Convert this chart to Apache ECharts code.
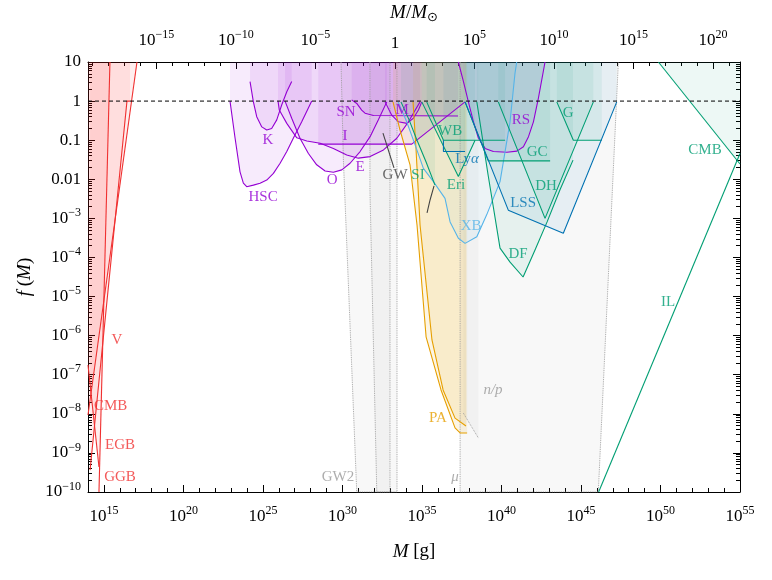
<!DOCTYPE html>
<html><head><meta charset="utf-8">
<script src="https://cdn.jsdelivr.net/npm/echarts@6/dist/echarts.min.js"></script>
<style>html,body{margin:0;background:#fff}#c{width:772px;height:580px}</style>
</head><body><div id="c"></div><script>
// All values: [log10(M / g), log10 f(M)]
const LOG_MSUN = 33.2986;
// evaporation (red)
const evapGGB = [[14.69,-10],[15.38,1]];
const evapCMB = [[14.0,-6.75],[14.69,-9.36]];
const evapEGB = [[14.0,-8.03],[17.08,1]];
const evapV = [[14.13,-9.44],[16.45,0],[16.64,0]];
// lensing (purple)
const lensHSC = [[22.93,0],[23.25,-0.95],[23.56,-1.81],[23.77,-2.10],[23.98,-2.19],[24.40,-2.15],[24.82,-2.10],[25.24,-2.02],[25.66,-1.85],[26.08,-1.59],[26.50,-1.29],[26.91,-0.95],[27.44,-0.53],[28.07,0]];
const lensK = [[24.19,0.50],[24.40,-0.02],[24.61,-0.40],[24.93,-0.66],[25.24,-0.74],[25.55,-0.70],[25.87,-0.48],[26.18,-0.10],[26.50,0.24],[26.81,0.50]];
const lensE = [[25.95,0],[26.03,-0.23],[26.50,-0.57],[27.13,-0.94],[27.76,-1.02],[28.60,-1.08],[29.43,-1.21],[30.27,-1.38],[31.00,-1.46],[31.74,-1.42],[32.58,-1.25],[33.42,-0.95],[34.15,-0.53],[34.88,-0.02]];
const lensO = [[26.39,0],[26.81,-0.44],[27.33,-0.95],[27.86,-1.34],[28.38,-1.63],[28.91,-1.79],[29.43,-1.82],[29.96,-1.76],[30.48,-1.59],[31.11,-1.29],[31.74,-0.91],[32.26,-0.48],[32.79,-0.02]];
const lensSN = [[30.58,0.03],[30.90,-0.06],[31.21,-0.23],[31.42,-0.31],[31.95,-0.37],[37.27,-0.38]];
const lensI = [[28.48,-1.10],[34.36,-1.10],[37.71,-0.02]];
const lensM = [[32.68,-0.02],[33.10,-0.36],[33.52,-0.53],[34.05,-0.57],[34.46,-0.44],[34.78,-0.23],[34.99,-0.02]];
const lensRS = [[37.29,1.0],[37.61,0.50],[37.92,-0.02],[38.24,-0.53],[38.55,-0.95],[38.97,-1.21],[39.49,-1.29],[40.34,-1.31],[40.97,-1.28],[41.38,-1.17],[41.70,-0.91],[42.01,-0.53],[42.32,0.07],[42.74,1.0]];
// dynamical (green)
const dynSI = [[33.68,-0.02],[34.19,-0.48],[34.69,-1.0],[35.26,-1.56],[35.82,-2.15]];
const dynWB = [[35.30,-0.02],[36.35,-1.0],[40.23,-1.0]];
const dynEri = [[34.99,-0.02],[37.29,-1.93],[38.34,-1.0]];
const dynGC = [[37.71,-0.02],[39.17,-1.53],[43.06,-1.53]];
const dynDF = [[38.45,-0.02],[39.16,-1.89],[39.91,-3.76],[40.54,-4.12],[41.36,-4.50],[42.11,-3.81],[42.87,-3.09],[43.68,-2.27],[44.50,-1.51]];
const dynDH = [[39.80,-0.02],[42.74,-3.0],[45.78,-0.02]];
const dynG = [[43.48,-0.02],[44.52,-1.0],[46.31,-1.0]];
const accCMB = [[49.87,1],[55,-1.61]];
const incIL = [[46.11,-10],[55,-1.34]];
// large-scale structure (blue)
const lssLSS = [[37.71,-0.02],[40.43,-2.79],[43.89,-3.38],[47.25,-0.02]];
const lssLya = [[36.35,-1.0],[36.35,-1.29],[37.71,-1.29]];
// accretion (sky blue, orange)
const accXB = [[33.50,-0.02],[34.04,-0.53],[34.57,-1.12],[35.09,-1.72],[35.72,-2.06],[36.45,-2.49],[36.77,-3.09],[37.29,-3.51],[37.71,-3.64],[38.45,-3.47],[39.07,-2.91],[39.91,-2.06],[40.54,-0.53],[40.85,0.71],[40.96,1.0]];
const accPA1 = [[33.18,-0.02],[33.62,-0.74],[34.25,-1.63],[34.69,-3.17],[35.26,-6.03],[36.20,-7.39],[37.08,-8.36],[37.40,-8.49],[37.84,-8.49]];
const accPA2 = [[34.44,-0.02],[34.63,-1.25],[34.88,-3.17],[35.63,-6.11],[36.33,-7.39],[37.08,-8.11],[37.77,-8.31]];
// gravitational waves / background (grey)
const gwGW = [[32.55,-0.82],[33.24,-1.71]];
const gwGWb = [[35.32,-2.86],[35.51,-2.53],[35.76,-2.17]];
const bgGW2a = [[29.91,1],[30.06,-1.51],[30.90,-10],[33.43,-10],[33.43,1]];
const bgGW2b = [[31.73,1],[31.73,-2.27],[32.16,-10],[32.99,-10],[32.99,1]];
const bgMu = [[37.40,1],[37.40,-10],[46.09,-10],[47.35,1]];
const bgNP = [[37.60,-7.98],[38.55,-8.62]];
const unity = [[14,0],[55,0]];
// labels: text, x, y, colour
const labels = [
  ['V',15.82,-6.11,'red'],['CMB',15.42,-7.80,'red'],['EGB',16.01,-8.80,'red'],['GGB',16.01,-9.62,'red'],
  ['HSC',25.01,-2.45,'purple'],['K',25.32,-1.0,'purple'],['SN',30.23,-0.28,'purple'],['I',30.16,-0.89,'purple'],
  ['O',29.35,-2.02,'purple'],['E',31.11,-1.69,'purple'],['M',33.75,-0.23,'purple'],['GW',33.31,-1.89,'dark'],
  ['SI',34.75,-1.89,'green'],['WB',36.77,-0.77,'green'],['Ly{i|α}',37.84,-1.48,'blue'],['Eri',37.14,-2.15,'green'],
  ['XB',38.09,-3.20,'sky'],['RS',41.23,-0.48,'purple'],['GC',42.24,-1.30,'green'],['G',44.19,-0.30,'green'],
  ['DH',42.80,-2.17,'green'],['LSS',41.36,-2.61,'blue'],['DF',41.04,-3.91,'green'],['CMB',52.80,-1.25,'green'],
  ['IL',50.48,-5.14,'green'],['{i|n/p}',39.47,-7.39,'grey'],['PA',36.01,-8.11,'orange'],['GW2',29.72,-9.62,'grey'],['{i|μ}',37.08,-9.62,'grey']
];
const bottomMajor = [15,20,25,30,35,40,45,50,55];
const topMajor = [-15,-10,-5,0,5,10,15,20];

const C = {red:'#f03030', purple:'#9400d3', green:'#009e73', blue:'#0072b2', sky:'#56b4e9', orange:'#e69f00', grey:'#999999', dark:'#444444'};
const F = {red:'rgba(255,40,40,0.11)', purple:'rgba(148,0,211,0.11)', green:'rgba(0,158,115,0.1)', blue:'rgba(0,114,178,0.1)', sky:'rgba(86,180,233,0.1)', orange:'rgba(230,159,0,0.15)', grey:'rgba(128,128,128,0.08)'};
const FONT = 'Liberation Serif';

const topMinor = []; for (let n=-19;n<=21;n++) topMinor.push(n);
const yMinor = []; for (let n=-10;n<=0;n++) for (let k=2;k<=9;k++) yMinor.push(n+Math.log10(k));

function pow10(v){ const n=Math.round(v); if(n===0) return '1'; return '10{sup|'+(n<0?'\u2212'+(-n):n)+'}'; }
function yFmt(v){ const n=Math.round(v); if(n===1) return '10'; if(n===0) return '1'; if(n===-1) return '0.1'; if(n===-2) return '0.01'; return pow10(n); }
const supStyle = {fontSize:12, fontFamily:FONT, color:'#000', padding:[0,0,11,0]};

function curve(data, key, fill, extra){
  const s = {type:'line', data:data, xAxisIndex:0, yAxisIndex:0, symbol:'none', silent:true, clip:true,
    lineStyle:{color:C[key], width:1.1}, z:3};
  if (fill) s.areaStyle = {color:F[key], origin:'end'};
  return Object.assign(s, extra||{});
}
const dotted = {lineStyle:{color:'#9a9a9a', width:0.9, type:'dotted'}};

const series = [
  curve(bgMu,'grey',true,dotted),
  curve(bgNP,'grey',true,dotted),
  curve(bgGW2a,'grey',true,dotted),
  curve(bgGW2b,'grey',true,dotted),
  curve(evapCMB,'red',true), curve(evapEGB,'red',true), curve(evapV,'red',true), curve(evapGGB,'red',true),
  curve(lensHSC,'purple',true), curve(lensK,'purple',true), curve(lensE,'purple',true), curve(lensO,'purple',true),
  curve(lensSN,'purple',true), curve(lensI,'purple',true), curve(lensM,'purple',true), curve(lensRS,'purple',true),
  curve(accPA1,'orange',true), curve(accPA2,'orange',true),
  curve(accXB,'sky',true),
  curve(dynSI,'green',true), curve(dynWB,'green',true), curve(dynEri,'green',true), curve(dynGC,'green',true),
  curve(dynDF,'green',true), curve(dynDH,'green',true), curve(dynG,'green',true),
  curve(lssLSS,'blue',true), curve(lssLya,'blue',true),
  curve(accCMB,'green',true), curve(incIL,'green',false),
  curve(gwGW,'dark',false), curve(gwGWb,'dark',false),
  {type:'line', data:unity, symbol:'none', silent:true, lineStyle:{color:'#000', width:1, type:[4,3]}, z:5},
  {type:'scatter', symbolSize:0, silent:true, z:6,
    data: labels.map(l => ({value:[l[1],l[2]], label:{show:true, position:'inside', formatter:l[0], color:C[l[3]],
      fontSize:15, fontFamily:FONT, rich:{i:{fontStyle:'italic', fontSize:15, fontFamily:FONT, color:C[l[3]]}}}}))}
];

const tickStyle = {color:'#000', width:1};
const lineOn = {show:true, onZero:false, lineStyle:{color:'#000', width:1}};
const lineOff = {show:false, onZero:false};
const nameStyle = {fontSize:19, fontFamily:FONT, color:'#000', rich:{i:{fontStyle:'italic', fontSize:19, fontFamily:FONT, color:'#000'}, sub:{fontSize:13, fontFamily:'DejaVu Sans', color:'#000', padding:[9,0,0,0]}}};
const option = {
  animation:false,
  backgroundColor:'#fff',
  grid:{left:88, right:32, top:62, bottom:88, containLabel:false, outerBoundsMode:'none'},
  xAxis:[
    {type:'value', min:14, max:55, interval:1, position:'bottom', axisLine:lineOn,
      axisTick:{inside:true, length:4, lineStyle:tickStyle}, axisLabel:{show:false}, splitLine:{show:false}},
    {type:'value', min:14, max:55, position:'bottom', axisLine:lineOff,
      axisTick:{inside:true, length:7, customValues:bottomMajor, lineStyle:tickStyle},
      axisLabel:{customValues:bottomMajor, formatter:pow10, fontSize:17, fontFamily:FONT, color:'#000', margin:13, rich:{sup:supStyle}},
      splitLine:{show:false},
      name:'{i|M} [g]', nameLocation:'middle', nameGap:50, nameTextStyle:nameStyle},
    {type:'value', min:14-LOG_MSUN, max:55-LOG_MSUN, position:'top', axisLine:lineOn,
      axisTick:{inside:true, length:4, customValues:topMinor, lineStyle:tickStyle}, axisLabel:{show:false}, splitLine:{show:false}},
    {type:'value', min:14-LOG_MSUN, max:55-LOG_MSUN, position:'top', axisLine:lineOff,
      axisTick:{inside:true, length:7, customValues:topMajor, lineStyle:tickStyle},
      axisLabel:{customValues:topMajor, formatter:pow10, fontSize:17, fontFamily:FONT, color:'#000', margin:10, rich:{sup:supStyle}},
      splitLine:{show:false},
      name:'{i|M}/{i|M}{sub|\u2299}', nameLocation:'middle', nameGap:38, nameTextStyle:nameStyle}
  ],
  yAxis:[
    {type:'value', min:-10, max:1, interval:1, position:'left', axisLine:lineOn,
      axisTick:{inside:true, length:7, lineStyle:tickStyle},
      axisLabel:{formatter:yFmt, fontSize:17, fontFamily:FONT, color:'#000', margin:7, rich:{sup:supStyle}}, splitLine:{show:false},
      name:'{i|f} ({i|M})', nameLocation:'middle', nameGap:50, nameRotate:90, nameTextStyle:nameStyle},
    {type:'value', min:-10, max:1, position:'left', axisLine:lineOff,
      axisTick:{inside:true, length:4, customValues:yMinor, lineStyle:tickStyle}, axisLabel:{show:false}, splitLine:{show:false}},
    {type:'value', min:-10, max:1, interval:1, position:'right', axisLine:lineOn,
      axisTick:{inside:true, length:7, lineStyle:tickStyle}, axisLabel:{show:false}, splitLine:{show:false}},
    {type:'value', min:-10, max:1, position:'right', axisLine:lineOff,
      axisTick:{inside:true, length:4, customValues:yMinor, lineStyle:tickStyle}, axisLabel:{show:false}, splitLine:{show:false}}
  ],
  series: series
};
const chart = echarts.init(document.getElementById('c'));
chart.setOption(option);
</script></body></html>
